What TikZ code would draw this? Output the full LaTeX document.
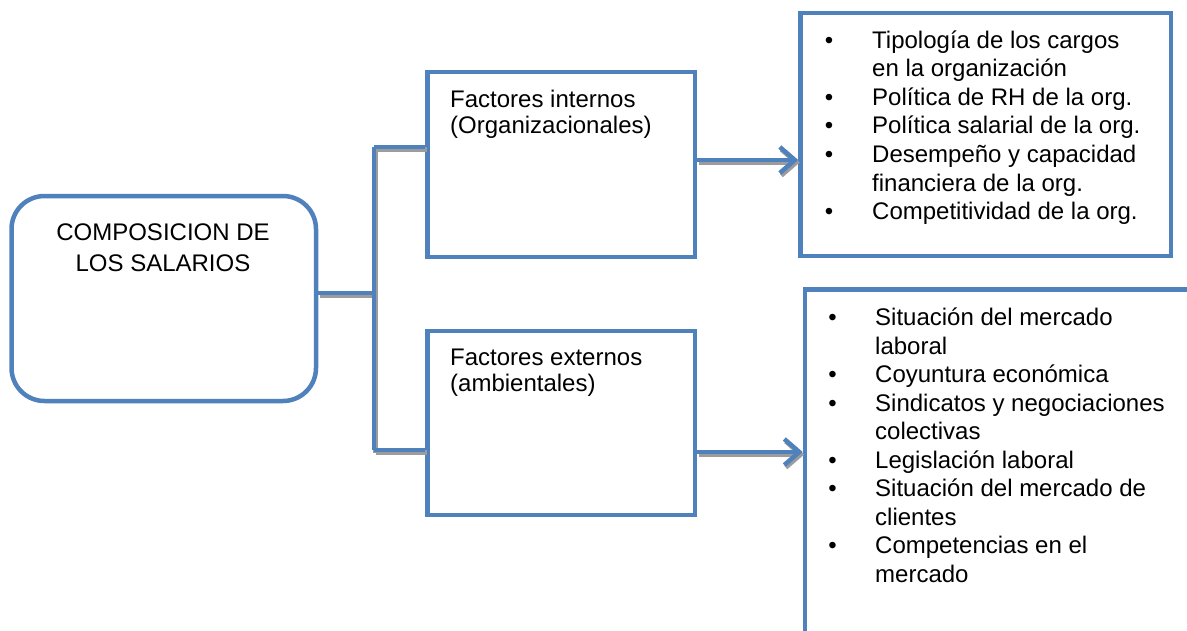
\documentclass[tikz,border=0pt]{standalone}
\usepackage{fontspec}
\setmainfont{Liberation Sans}
\usetikzlibrary{arrows.meta}
\definecolor{boxblue}{HTML}{4F81BD}
\definecolor{shade}{HTML}{9C9C9C}
\begin{document}
\begin{tikzpicture}[x=1pt,y=-1pt,
  frame/.style={draw=boxblue,line width=4.5pt,inner sep=0pt,fill=white,rectangle},
  link/.style={draw=boxblue,line width=4.5pt},
  linkshade/.style={draw=shade,line width=4.5pt,transform canvas={xshift=1.5pt,yshift=-2.5pt}},
  head/.style={-{Straight Barb[length=15pt,width=26pt]}},
  txt/.style={inner sep=0pt,anchor=base west,font=\fontsize{24}{29}\selectfont},
  ctxt/.style={inner sep=0pt,anchor=base,font=\fontsize{24}{29}\selectfont},
  dot/.style={inner sep=0pt,anchor=base,font=\fontsize{24}{29}\selectfont}]
\useasboundingbox (0,0) rectangle (1187,630);
\clip (0,0) rectangle (1187,630);

% boxes
\node[frame,rounded corners=33pt,minimum width=304.5pt,minimum height=205pt] (root) at (163.75,298.5) {};
\node[frame,minimum width=267.5pt,minimum height=185pt] (f1) at (561.25,164.5) {};
\node[frame,minimum width=267.5pt,minimum height=184pt] (f2) at (561.25,423) {};
\node[frame,minimum width=370.5pt,minimum height=243pt] (r1) at (985.75,134.25) {};
\node[frame,minimum width=460pt,minimum height=400pt] (r2) at (1035,489.5) {};

% junction points of the bracket
\coordinate (ja) at (374,293);
\coordinate (jt) at (374,147);
\coordinate (jb) at (374,450);

% bracket connectors with their drop shadow
\foreach \s in {linkshade,link}{
  \draw[\s] (root.east |- ja) -- (ja);
  \draw[\s] (jt) -- (jb);
  \draw[\s] (jt) -- (f1.west |- jt);
  \draw[\s] (jb) -- (f2.west |- jb);
  \draw[\s,head] ([yshift=4.5pt]f1.east) -- ([yshift=4.5pt]f1.east -| r1.west);
  \draw[\s,head] ([yshift=-29pt]f2.east) -- ([yshift=-29pt]f2.east -| r2.west);
}

% texts
\node[ctxt] (rt1) at (163,240) {COMPOSICION DE};
\node[ctxt] (rt2) at (163,271) {LOS SALARIOS};

\node[txt] (ft1) at (450,107) {Factores internos};
\node[txt] (ft2) at (450,133) {(Organizacionales)};
\node[txt] (ft3) at (450,365) {Factores externos};
\node[txt] (ft4) at (450,391) {(ambientales)};

\foreach \t/\yy/\b [count=\i] in {
  Tipología de los cargos/48/1,
  en la organización/76.6/0,
  Política de RH de la org./105.2/1,
  Política salarial de la org./133.8/1,
  Desempeño y capacidad/162.4/1,
  financiera de la org./191/0,
  Competitividad de la org./219.6/1}{
  \node[txt] (ta\i) at (872,\yy) {\t};
  \ifnum\b=1 \node[dot] (ba\i) at (829,\yy) {\textbullet};\fi
}

\foreach \t/\yy/\b [count=\i] in {
  Situación del mercado/325.7/1,
  laboral/354.2/0,
  Coyuntura económica/382.7/1,
  Sindicatos y negociaciones/411.2/1,
  colectivas/439.7/0,
  Legislación laboral/468.2/1,
  Situación del mercado de/496.7/1,
  clientes/525.2/0,
  Competencias en el/553.7/1,
  mercado/582.2/0}{
  \node[txt] (tb\i) at (875,\yy) {\t};
  \ifnum\b=1 \node[dot] (bb\i) at (832.5,\yy) {\textbullet};\fi
}
\end{tikzpicture}
\end{document}
